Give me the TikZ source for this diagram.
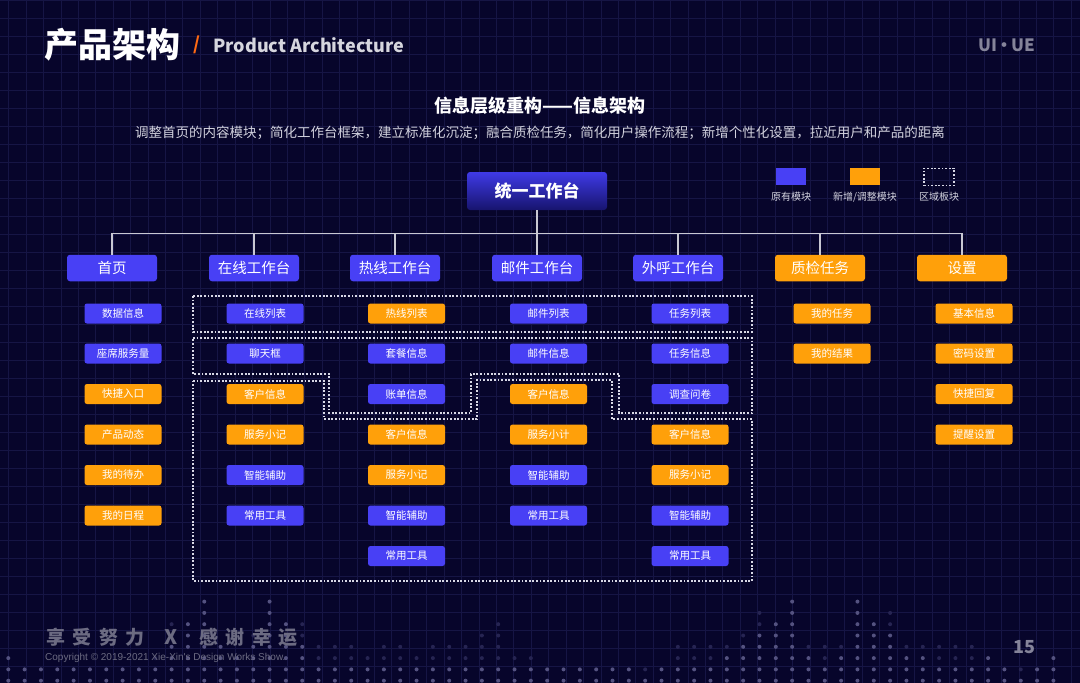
\documentclass[tikz,border=0pt]{standalone}
\usepackage{fontspec}
\setmainfont{Noto Sans CJK SC}
\newfontfamily\arialf{Liberation Sans}
\definecolor{bg}{HTML}{07052B}
\definecolor{gridc}{HTML}{161545}
\definecolor{bl}{HTML}{4840F5}
\definecolor{og}{HTML}{FFA00A}
\definecolor{linec}{HTML}{C8C8D2}
\definecolor{dashc}{HTML}{D8D8E6}
\definecolor{dotb}{HTML}{545280}
\definecolor{dotd}{HTML}{262452}
\definecolor{footc}{HTML}{6C6B82}
\definecolor{topa}{HTML}{3F3AE6}
\definecolor{topb}{HTML}{17146E}
\definecolor{slc}{HTML}{FF6A13}
\definecolor{engc}{HTML}{D6D6DE}
\definecolor{uic}{HTML}{85849A}
\definecolor{subc}{HTML}{D2D2DE}
\newcommand\fsz[1]{\fontsize{#1pt}{#1pt}\selectfont}
\begin{document}
\begin{tikzpicture}[x=1pt,y=-1pt,
  lvA/.style={rounded corners=3pt, minimum width=90pt, minimum height=26.5pt, inner sep=0pt, text=white, font=\fsz{14.5}},
  lvB/.style={rounded corners=2.5pt, minimum width=77pt, minimum height=20pt, inner sep=0pt, text=white, font=\fsz{10.5}},
  topbox/.style={rounded corners=3pt, minimum width=140pt, minimum height=38pt, inner sep=0pt, top color=topa, bottom color=topb, text=white, font=\fsz{17}\bfseries},
  tree/.style={draw=linec, line width=1.4pt},
  zone/.style={draw=dashc, line width=1.3pt, dash pattern=on 1.8pt off 1.8pt},
  legbox/.style={minimum width=30pt, minimum height=17pt, inner sep=0pt},
  legtxt/.style={font=\fsz{10}, text=subc}]
\useasboundingbox (0,0) rectangle (1080,683);
\fill[bg] (0,0) rectangle (1080,683);
% grid
\foreach \k in {0,...,61} \draw[gridc, line width=0.7pt] ({8.6+17.42*\k},0) -- ({8.6+17.42*\k},683);
\foreach \k in {0,...,37} \draw[gridc, line width=0.7pt] (0,{0.3+18*\k}) -- (1080,{0.3+18*\k});
% footer dots
\foreach \i/\h/\d in {0/3/0,1/2/0,2/2/0,3/2/0,4/2/0,5/2/0,6/2/0,7/2/0,8/2/0,9/2/1,10/4/2,11/6/0,12/8/0,13/4/0,14/3/0,15/4/1,16/8/0,17/6/0,18/4/2,19/2/2,20/2/2,21/2/2,22/2/1,23/2/2,24/2/2,25/2/1,26/2/2,27/2/2,28/2/2,29/2/3,30/2/4,31/2/1,32/2/1,33/2/0,34/2/0,35/2/0,36/2/0,37/2/0,38/2/0,39/1/1,40/2/0,41/2/2,42/2/2,43/2/2,44/3/1,45/4/1,46/5/2,47/6/0,48/8/0,49/3/1,50/2/2,51/3/1,52/8/0,53/6/0,54/5/2,55/3/1,56/3/1,57/2/2,58/2/2,59/2/2,60/3/0,61/2/0,62/1/1,63/2/0,64/3/0}{
  \pgfmathtruncatemacro\hb{\h-1}
  \foreach \r in {0,...,\hb} \fill[dotb] ({8.3+16.33*\i},{680.7-11.3*\r}) circle (2pt);
  \ifnum\d>0
    \pgfmathtruncatemacro\ds{\h}
    \pgfmathtruncatemacro\de{\h+\d-1}
    \foreach \r in {\ds,...,\de} \fill[dotd] ({8.3+16.33*\i},{680.7-11.3*\r}) circle (2pt);
  \fi
}
% title
\node[anchor=west, font=\fsz{34}\bfseries, text=white, inner sep=0pt] (ttl) at (44,45) {产品架构};
\node[anchor=center, font=\fsz{18}\bfseries, text=slc, inner sep=0pt] (sl) at (197,45) {/};
\node[anchor=west, font=\fsz{18}\bfseries, text=engc, inner sep=0pt] (en) at (213,45) {Product Architecture};
\node[anchor=east, font=\fsz{17}\bfseries, text=uic, inner sep=0pt] (ui) at (1035,45) {UI\kern-1.5pt·\kern-1.5pt UE};
% heading
\node[font=\fsz{18}\bfseries, text=white, inner sep=0pt] (h1) at (540,106) {信息层级重构——信息架构};
\node[font=\fsz{13.5}, text=subc, inner sep=0pt] (h2) at (540,133) {调整首页的内容模块；简化工作台框架，建立标准化沉淀；融合质检任务，简化用户操作流程；新增个性化设置，拉近用户和产品的距离};
% legend
\node[legbox, fill=bl] (lg1) at (791,176.8) {};
\node[legbox, fill=og] (lg2) at (865,176.8) {};
\node[legbox, zone] (lg3) at (939,176.8) {};
\node[legtxt] (lt1) at (791,197) {原有模块};
\node[legtxt] (lt2) at (865,197) {新增/调整模块};
\node[legtxt] (lt3) at (939,197) {区域板块};
% top node
\node[topbox] (t) at (537,191) {统一工作台};
% level 1
\node[lvA,fill=bl] (n1) at (112,268) {首页};
\node[lvA,fill=bl] (n2) at (254,268) {在线工作台};
\node[lvA,fill=bl] (n3) at (395,268) {热线工作台};
\node[lvA,fill=bl] (n4) at (537,268) {邮件工作台};
\node[lvA,fill=bl] (n5) at (678,268) {外呼工作台};
\node[lvA,fill=og] (n6) at (820,268) {质检任务};
\node[lvA,fill=og] (n7) at (962,268) {设置};
\coordinate (bus) at (537,233.5);
\draw[tree] (t.south) -- (bus);
\foreach \n in {n1,n2,n3,n4,n5,n6,n7} \draw[tree] (bus) -| (\n.north);
% zones
\draw[zone] (193,296) rectangle (752,332);
\draw[zone] (193,338) -- (752,338) -- (752,413) -- (619,413) -- (619,374) -- (471,374) -- (471,413) -- (329,413) -- (329,374) -- (193,374) -- cycle;
\draw[zone] (193,381) -- (324,381) -- (324,419) -- (477,419) -- (477,380) -- (612,380) -- (612,419) -- (752,419) -- (752,581) -- (193,581) -- cycle;
% level 2
\foreach \nm/\x/\y/\c/\t in {
  a1/123/313.5/bl/数据信息, a2/123/353.5/bl/座席服务量, a3/123/394/og/快捷入口, a4/123/434.5/og/产品动态, a5/123/475/og/我的待办, a6/123/515.5/og/我的日程,
  b1/265/313.5/bl/在线列表, b2/265/353.5/bl/聊天框, b3/265/394/og/客户信息, b4/265/434.5/og/服务小记, b5/265/475/bl/智能辅助, b6/265/515.5/bl/常用工具,
  c1/406.5/313.5/og/热线列表, c2/406.5/353.5/bl/套餐信息, c3/406.5/394/bl/账单信息, c4/406.5/434.5/og/客户信息, c5/406.5/475/og/服务小记, c6/406.5/515.5/bl/智能辅助, c7/406.5/556/bl/常用工具,
  d1/548.5/313.5/bl/邮件列表, d2/548.5/353.5/bl/邮件信息, d3/548.5/394/og/客户信息, d4/548.5/434.5/og/服务小计, d5/548.5/475/bl/智能辅助, d6/548.5/515.5/bl/常用工具,
  e1/690/313.5/bl/任务列表, e2/690/353.5/bl/任务信息, e3/690/394/bl/调查问卷, e4/690/434.5/og/客户信息, e5/690/475/og/服务小记, e6/690/515.5/bl/智能辅助, e7/690/556/bl/常用工具,
  f1/832/313.5/og/我的任务, f2/832/353.5/og/我的结果,
  g1/974/313.5/og/基本信息, g2/974/353.5/og/密码设置, g3/974/394/og/快捷回复, g4/974/434.5/og/提醒设置}
  \node[lvB,fill=\c] (\nm) at (\x,\y) {\t};
% footer
\node[anchor=west, font=\fsz{19}\bfseries, text=footc, inner sep=0pt] (f1t) at (46,637) {\addfontfeatures{LetterSpace=40}享受努力};
\node[font=\fsz{20}\bfseries, text=footc, inner sep=0pt] (fx) at (171,637) {X};
\node[anchor=west, font=\fsz{19}\bfseries, text=footc, inner sep=0pt] (f2t) at (199,637) {\addfontfeatures{LetterSpace=40}感谢幸运};
\node[anchor=west, font=\arialf\fsz{10}, text=footc, inner sep=0pt] (cp) at (45,658) {Copyright © 2019-2021 Xie-Xin's Design Works Show.};
\node[font=\fsz{18}\bfseries, text=uic, inner sep=0pt] (pg) at (1024,647) {15};
\end{tikzpicture}
\end{document}
